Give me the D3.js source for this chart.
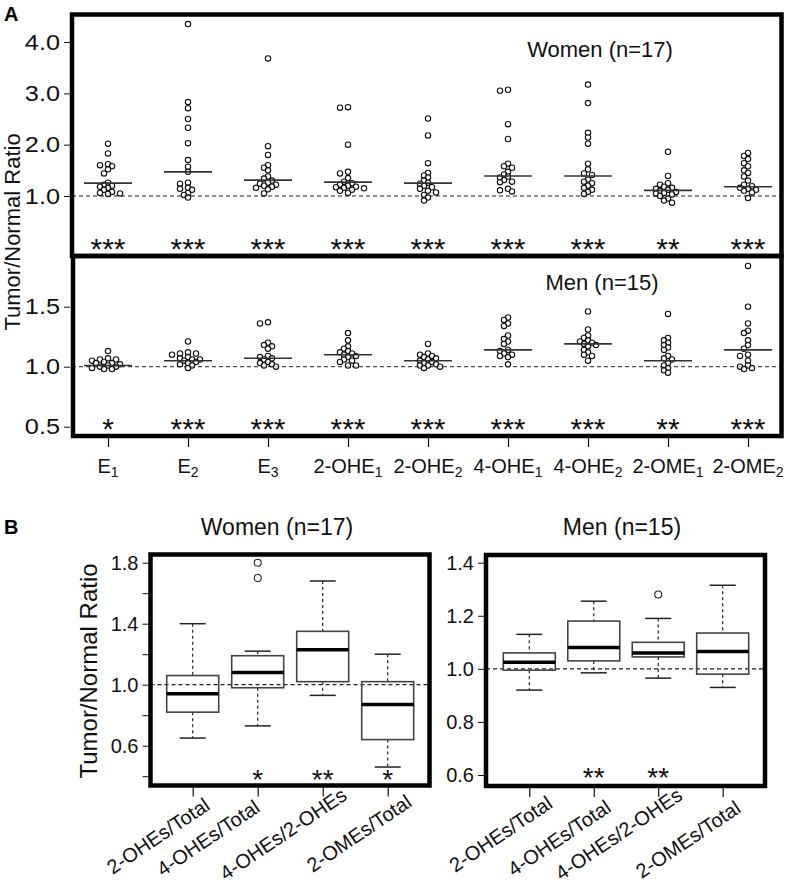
<!DOCTYPE html>
<html><head><meta charset="utf-8">
<script src="https://cdn.jsdelivr.net/npm/d3@7/dist/d3.min.js"></script>
<style>
body{margin:0;background:#fff;}
svg{display:block;font-family:"Liberation Sans",Arial,Helvetica,sans-serif;}
</style></head>
<body>
<svg id="chart" width="800" height="887"></svg>
<script>
// ---------- Panel A data ----------
const catBase = ["E","E","E","2-OHE","2-OHE","4-OHE","4-OHE","2-OME","2-OME"];
const catSub  = ["1","2","3","1","2","1","2","1","2"];
const catKeys = catBase.map((b,i)=>b+catSub[i]);

const womenValues = [
  [2.02,1.83,1.62,1.60,1.58,1.52,1.44,1.26,1.22,1.20,1.18,1.16,1.12,1.08,1.06,1.05,1.04],
  [4.35,2.83,2.71,2.50,2.33,2.03,1.70,1.57,1.47,1.26,1.24,1.16,1.14,1.12,1.06,1.02,0.97],
  [3.68,1.97,1.80,1.60,1.55,1.50,1.38,1.34,1.30,1.26,1.24,1.22,1.20,1.18,1.16,1.13,1.05],
  [2.73,2.72,2.00,1.47,1.44,1.35,1.28,1.25,1.22,1.20,1.18,1.17,1.16,1.15,1.12,1.10,1.06],
  [2.51,2.18,1.64,1.45,1.40,1.36,1.30,1.26,1.24,1.20,1.17,1.14,1.10,1.07,1.02,0.97,0.91],
  [3.07,3.05,2.40,2.11,1.63,1.58,1.55,1.47,1.42,1.38,1.36,1.31,1.28,1.27,1.14,1.11,1.09],
  [3.17,2.81,2.23,2.14,2.02,1.63,1.52,1.44,1.41,1.32,1.28,1.25,1.20,1.16,1.12,1.08,1.04],
  [1.86,1.39,1.25,1.22,1.18,1.16,1.14,1.12,1.10,1.08,1.06,1.05,1.03,1.00,0.95,0.91,0.87],
  [1.84,1.78,1.72,1.64,1.58,1.50,1.45,1.38,1.30,1.22,1.19,1.16,1.14,1.12,1.10,1.07,0.96]
];
const womenCenters = [1.25,1.47,1.31,1.27,1.25,1.39,1.39,1.11,1.18];
const womenStars = ["***","***","***","***","***","***","***","**","***"];

const menValues = [
  [1.13,1.07,1.06,1.06,1.05,1.04,1.03,1.03,1.02,1.01,1.00,1.00,0.99,0.98,0.98],
  [1.21,1.12,1.11,1.11,1.10,1.08,1.07,1.06,1.06,1.05,1.04,1.03,1.02,1.01,0.99],
  [1.37,1.36,1.20,1.18,1.17,1.15,1.09,1.08,1.07,1.06,1.04,1.03,1.02,1.01,1.00],
  [1.28,1.22,1.17,1.15,1.13,1.12,1.11,1.10,1.09,1.08,1.06,1.05,1.04,1.01,1.01],
  [1.19,1.11,1.10,1.09,1.08,1.07,1.06,1.05,1.04,1.03,1.02,1.01,1.01,1.00,0.99],
  [1.41,1.39,1.36,1.34,1.26,1.23,1.21,1.19,1.14,1.13,1.11,1.10,1.09,1.08,1.02],
  [1.46,1.31,1.26,1.24,1.22,1.21,1.20,1.19,1.18,1.17,1.14,1.12,1.10,1.09,1.05],
  [1.44,1.24,1.22,1.20,1.18,1.16,1.14,1.09,1.07,1.06,1.03,1.01,0.99,0.97,0.95],
  [1.84,1.50,1.36,1.30,1.28,1.22,1.18,1.15,1.10,1.09,1.05,1.01,1.00,0.99,0.98]
];
const menCenters = [1.01,1.05,1.07,1.10,1.05,1.14,1.19,1.05,1.14];
const menStars = ["*","***","***","***","***","***","***","**","***"];

const yTicksTopA = [1,2,3,4];
const yTicksBottomA = [0.5,1.0,1.5];

// ---------- Panel B data ----------
const ratioCats = ["2-OHEs/Total","4-OHEs/Total","4-OHEs/2-OHEs","2-OMEs/Total"];
const womenLow  = [0.65,0.73,0.93,0.46];
const womenQ1   = [0.82,0.98,1.02,0.64];
const womenMed  = [0.94,1.08,1.23,0.87];
const womenQ3   = [1.06,1.19,1.35,1.02];
const womenHigh = [1.40,1.22,1.68,1.20];
const womenOut  = [[],[1.80,1.70],[],[]];
const womenStarsB = ["","*","**","*"];

const menLow  = [0.92,0.985,0.965,0.93];
const menQ1   = [0.995,1.03,1.045,0.98];
const menMed  = [1.025,1.08,1.06,1.065];
const menQ3   = [1.06,1.18,1.10,1.135];
const menHigh = [1.13,1.255,1.19,1.315];
const menOut  = [[],[],[1.28],[]];
const menStarsB = ["","**","**",""];

const yTicksWomenB = [0.4,0.6,0.8,1.0,1.2,1.4,1.6,1.8];
const yLabelsWomenB = [0.6,1.0,1.4,1.8];
const yTicksMenB = [0.6,0.8,1.0,1.2,1.4];

// ---------- layout (label placement, not data) ----------
const womenLabelDx = [-80,-95,-97,-75], womenLabelY = [875,877,881,873];
const menLabelDx   = [-74,-80,-97,-81], menLabelY   = [873,877,881,879];

// ---------- drawing ----------
const svg = d3.select("#chart");
const FONT = '"Liberation Sans",Arial,Helvetica,sans-serif';

const xA = d3.scalePoint().domain(catKeys).range([108,748]);
const yTop = d3.scaleLinear().domain([1,4]).range([196,42]);
const yBot = d3.scaleLinear().domain([0.5,1.5]).range([426.7,306.7]);
const frameA = {x0:72, x1:781.5, top:14.5, mid:256, bot:436};

svg.append("text").attr("x",4).attr("y",21).attr("font-size",20).attr("font-weight","bold").text("A");

function beeswarm(vals, y, r){
  const order = vals.map((v,i)=>i).sort((a,b)=>vals[b]-vals[a]);
  const placed = [];
  const cands = [0,-4,4,-8,8,-12,12,-16,16];
  const out = new Array(vals.length);
  order.forEach(i=>{
    const py = y(vals[i]);
    let ox = 0;
    for(const c of cands){
      if(placed.every(p=>Math.hypot(p.x-c,p.y-py) >= 1.6*r)){ ox=c; break; }
    }
    placed.push({x:ox,y:py});
    out[i] = {v:vals[i], dx:ox};
  });
  return out;
}

function drawStrip(values, centers, stars, y, starY){
  const g = svg.append("g");
  g.append("line").attr("x1",frameA.x0).attr("x2",frameA.x1)
    .attr("y1",y(1)).attr("y2",y(1))
    .attr("stroke","#222").attr("stroke-width",1).attr("stroke-dasharray","4,3");
  catKeys.forEach((k,ci)=>{
    const cx = xA(k);
    const pts = beeswarm(values[ci], y, 2.7);
    g.selectAll(null).data(pts).enter().append("circle")
      .attr("cx",d=>cx+d.dx).attr("cy",d=>y(d.v)).attr("r",2.7)
      .attr("fill","white").attr("fill-opacity",0.6).attr("stroke","#111").attr("stroke-width",1.1);
    g.append("line").attr("x1",cx-24).attr("x2",cx+24)
      .attr("y1",y(centers[ci])).attr("y2",y(centers[ci]))
      .attr("stroke","#333").attr("stroke-width",1.6);
    g.append("text").attr("x",cx).attr("y",starY).attr("text-anchor","middle")
      .attr("font-size",30).attr("fill","#111").text(stars[ci]);
  });
}

drawStrip(womenValues, womenCenters, womenStars, yTop, 259);
drawStrip(menValues, menCenters, menStars, yBot, 439);

svg.append("rect").attr("x",frameA.x0).attr("y",frameA.top)
  .attr("width",frameA.x1-frameA.x0).attr("height",frameA.mid-frameA.top)
  .attr("fill","none").attr("stroke","#000").attr("stroke-width",4.5);
svg.append("rect").attr("x",frameA.x0+1).attr("y",frameA.mid)
  .attr("width",frameA.x1-frameA.x0-1).attr("height",frameA.bot-frameA.mid)
  .attr("fill","none").attr("stroke","#000").attr("stroke-width",4.5);

function yAxisA(scale, ticks){
  const ax = d3.axisLeft(scale).tickValues(ticks).tickFormat(d3.format(".1f")).tickSize(6).tickPadding(4);
  const g = svg.append("g").attr("transform",`translate(${frameA.x0-2},0)`).call(ax);
  g.select(".domain").remove();
  g.selectAll("text").attr("x",0).attr("transform","translate(-10,0) scale(1.15,1)")
    .attr("font-size",22).attr("font-family",FONT).attr("fill","#111");
  g.selectAll("line").attr("stroke","#111");
}
yAxisA(yTop, yTicksTopA);
yAxisA(yBot, yTicksBottomA);

const axA = svg.append("g").attr("transform",`translate(0,${frameA.bot+2})`)
  .call(d3.axisBottom(xA).tickSize(9).tickFormat(""));
axA.select(".domain").remove();
axA.selectAll("line").attr("stroke","#111").attr("stroke-width",1.2);
catKeys.forEach((k,i)=>{
  const t = svg.append("text").attr("x",xA(k)).attr("y",473).attr("text-anchor","middle")
    .attr("font-size",20).attr("fill","#111");
  t.append("tspan").text(catBase[i]);
  t.append("tspan").attr("font-size",14).attr("dy",4).text(catSub[i]);
});

svg.append("text").attr("transform","translate(20,232) rotate(-90)")
  .attr("text-anchor","middle").attr("font-size",22).attr("fill","#111").text("Tumor/Normal Ratio");
svg.append("text").attr("x",600).attr("y",57).attr("text-anchor","middle")
  .attr("font-size",22).attr("fill","#111").text("Women (n=17)");
svg.append("text").attr("x",602).attr("y",290).attr("text-anchor","middle")
  .attr("font-size",22).attr("fill","#111").text("Men (n=15)");

// ---------- Panel B ----------
svg.append("text").attr("x",4).attr("y",534).attr("font-size",20).attr("font-weight","bold").text("B");
svg.append("text").attr("transform","translate(97,671) rotate(-90)")
  .attr("text-anchor","middle").attr("font-size",24).attr("fill","#111").text("Tumor/Normal Ratio");

function boxPanel(o){
  const x = d3.scalePoint().domain(ratioCats).range(o.xr);
  const y = d3.scaleLinear().domain(o.yd).range(o.yr);
  const g = svg.append("g");
  g.append("text").attr("x",o.titleX).attr("y",535).attr("text-anchor","middle")
    .attr("font-size",23).attr("fill","#111").text(o.title);
  g.append("line").attr("x1",o.f.x0).attr("x2",o.f.x1).attr("y1",y(1)).attr("y2",y(1))
    .attr("stroke","#222").attr("stroke-width",1.2).attr("stroke-dasharray","4,3");
  const bw = 26, cw = 13;
  ratioCats.forEach((c,i)=>{
    const cx = x(c);
    g.append("line").attr("x1",cx).attr("x2",cx).attr("y1",y(o.high[i])).attr("y2",y(o.q3[i]))
      .attr("stroke","#222").attr("stroke-width",1.2).attr("stroke-dasharray","3,3");
    g.append("line").attr("x1",cx).attr("x2",cx).attr("y1",y(o.q1[i])).attr("y2",y(o.low[i]))
      .attr("stroke","#222").attr("stroke-width",1.2).attr("stroke-dasharray","3,3");
    [o.high[i],o.low[i]].forEach(v=>{
      g.append("line").attr("x1",cx-cw).attr("x2",cx+cw).attr("y1",y(v)).attr("y2",y(v))
        .attr("stroke","#222").attr("stroke-width",1.5);
    });
    g.append("rect").attr("x",cx-bw).attr("width",2*bw)
      .attr("y",y(o.q3[i])).attr("height",y(o.q1[i])-y(o.q3[i]))
      .attr("fill","none").attr("stroke","#444").attr("stroke-width",1.6);
    g.append("line").attr("x1",cx-bw).attr("x2",cx+bw).attr("y1",y(o.med[i])).attr("y2",y(o.med[i]))
      .attr("stroke","#000").attr("stroke-width",3.5);
    g.selectAll(null).data(o.out[i]).enter().append("circle")
      .attr("cx",cx).attr("cy",d=>y(d)).attr("r",3.5)
      .attr("fill","none").attr("stroke","#222").attr("stroke-width",1.1);
    g.append("text").attr("x",cx).attr("y",o.starY).attr("text-anchor","middle")
      .attr("font-size",28).attr("fill","#111").text(o.stars[i]);
  });
  g.append("rect").attr("x",o.f.x0).attr("y",o.f.top).attr("width",o.f.x1-o.f.x0)
    .attr("height",o.f.bot-o.f.top).attr("fill","none").attr("stroke","#000").attr("stroke-width",4.5);
  const ay = svg.append("g").attr("transform",`translate(${o.f.x0-2},0)`)
    .call(d3.axisLeft(y).tickValues(o.yTicks).tickSize(6).tickPadding(4)
      .tickFormat(d=> o.yLabels.some(l=>Math.abs(l-d)<1e-9) ? d3.format(".1f")(d) : ""));
  ay.select(".domain").remove();
  ay.selectAll("text").attr("font-size",20).attr("font-family",FONT).attr("fill","#111");
  ay.selectAll("line").attr("stroke","#111");
  const axB = svg.append("g").attr("transform",`translate(0,${o.f.bot+2})`)
    .call(d3.axisBottom(x).tickSize(9).tickFormat(""));
  axB.select(".domain").remove();
  axB.selectAll("line").attr("stroke","#111").attr("stroke-width",1.2);
  ratioCats.forEach((c,i)=>{
    g.append("text").attr("transform",`translate(${x(c)+o.labDx[i]},${o.labY[i]}) rotate(-34)`)
      .attr("text-anchor","start").attr("font-size",20).attr("fill","#111").text(c);
  });
}

boxPanel({title:"Women (n=17)", titleX:277, xr:[192.7,387.7], yd:[0.6,1.8], yr:[745.7,562.7],
  f:{x0:150.5,x1:429.5,top:554.5,bot:785.5}, low:womenLow,q1:womenQ1,med:womenMed,q3:womenQ3,high:womenHigh,
  out:womenOut, stars:womenStarsB, starY:789, yTicks:yTicksWomenB, yLabels:yLabelsWomenB,
  labDx:womenLabelDx, labY:womenLabelY});
boxPanel({title:"Men (n=15)", titleX:622, xr:[529.3,722.7], yd:[0.6,1.4], yr:[775,562.7],
  f:{x0:486,x1:765,top:555,bot:786}, low:menLow,q1:menQ1,med:menMed,q3:menQ3,high:menHigh,
  out:menOut, stars:menStarsB, starY:787, yTicks:yTicksMenB, yLabels:yTicksMenB,
  labDx:menLabelDx, labY:menLabelY});
</script>
</body></html>
